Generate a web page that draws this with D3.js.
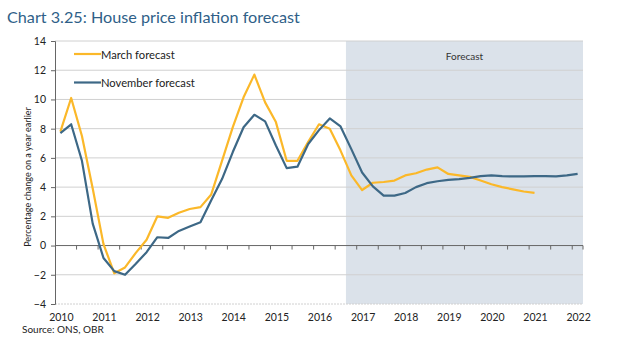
<!DOCTYPE html>
<html><head><meta charset="utf-8">
<script src="https://cdn.jsdelivr.net/npm/d3@7"></script>
<style>body{margin:0;background:#fff}svg{display:block;font-family:Lato,"Open Sans",sans-serif}</style>
</head><body><svg id="c" width="630" height="351"></svg>
<script>
const years = ["2010","2011","2012","2013","2014","2015","2016","2017","2018","2019","2020","2021","2022"];
const quarters = d3.range(49).map(i => (2010 + Math.floor(i/4)) + "Q" + (i%4+1));
const march = [7.8,10.1,7.5,3.9,0.1,-1.9,-1.5,-0.5,0.4,2.0,1.9,2.25,2.5,2.63,3.5,5.8,8.1,10.15,11.7,9.8,8.45,5.8,5.8,7.1,8.3,8.0,6.5,4.8,3.8,4.3,4.35,4.45,4.8,4.95,5.2,5.35,4.9,4.8,4.7,4.45,4.2,4.0,3.85,3.7,3.6];
const november = [7.7,8.3,5.8,1.5,-0.85,-1.75,-2.0,-1.25,-0.45,0.57,0.52,1.0,1.3,1.6,3.1,4.55,6.4,8.1,8.95,8.5,6.85,5.3,5.4,6.95,7.9,8.7,8.15,6.6,5.0,4.05,3.42,3.42,3.6,4.0,4.27,4.4,4.5,4.55,4.63,4.75,4.8,4.75,4.73,4.73,4.75,4.75,4.73,4.8,4.9];
const yTicks = [-4,-2,0,2,4,6,8,10,12,14];
const forecastStart = "2016Q4";
const seriesNames = ["March forecast","November forecast"];
const colors = ["#fbb829","#3d6886"];

const svg = d3.select("#c");
const L = 55, R = 583, T = 41, B = 304;
const x = d3.scaleBand().domain(quarters).range([L, R]);
const y = d3.scaleLinear().domain([-4, 14]).range([B, T]);
const cx = q => x(q) + x.bandwidth()/2;

// title
svg.append("text").attr("x", 7).attr("y", 23).attr("fill", "#2f5f88")
  .attr("font-size", 16.2).text("Chart 3.25: House price inflation forecast");

// forecast shading
svg.append("rect").attr("x", x(forecastStart)).attr("y", T)
  .attr("width", R - x(forecastStart)).attr("height", B - T).attr("fill", "#dbe2ea");
svg.append("text").attr("x", (x(forecastStart) + R)/2).attr("y", 60).attr("text-anchor", "middle")
  .attr("font-size", 10).attr("fill", "#333").text("Forecast");

// gridlines
svg.append("g").selectAll("line").data(yTicks.filter(v => v !== 0)).join("line")
  .attr("x1", L).attr("x2", R).attr("y1", d => y(d)).attr("y2", d => y(d))
  .attr("stroke", "#d0d0d0").attr("stroke-width", 1)
  .attr("stroke-dasharray", d => d === -4 ? "2,1" : null);

// left axis
const ya = svg.append("g").attr("transform", `translate(${L},0)`)
  .call(d3.axisLeft(y).tickValues(yTicks).tickSize(4).tickPadding(5));
ya.select(".domain").attr("stroke", "#666");
ya.selectAll(".tick line").attr("stroke", "#666");
ya.selectAll("text").attr("font-size", 10.5).attr("fill", "#222").attr("font-family", "Lato, sans-serif");

// zero axis with ticks every 2 quarters
svg.append("line").attr("x1", L).attr("x2", R).attr("y1", y(0)).attr("y2", y(0)).attr("stroke", "#666");
svg.append("g").selectAll("line").data(quarters.filter((q,i) => i % 2 === 0 && i > 0).concat(["end"])).join("line")
  .attr("x1", d => d === "end" ? R : x(d)).attr("x2", d => d === "end" ? R : x(d))
  .attr("y1", y(0)).attr("y2", y(0) + 4).attr("stroke", "#666");

// x labels
svg.append("g").selectAll("text").data(years).join("text")
  .attr("x", d => cx(d + "Q1") + 1).attr("y", 321).attr("text-anchor", "middle")
  .attr("font-size", 10.5).attr("fill", "#222").text(d => d);

// lines
const line = d3.line().x((d,i) => cx(quarters[i])).y(d => y(d));
[march, november].forEach((s, k) => {
  svg.append("path").datum(s).attr("d", line).attr("fill", "none")
    .attr("stroke", colors[k]).attr("stroke-width", 2.2).attr("stroke-linejoin", "round");
});

// legend
seriesNames.forEach((n, k) => {
  const ly = 54 + k * 28.5;
  svg.append("line").attr("x1", 74).attr("x2", 101).attr("y1", ly).attr("y2", ly)
    .attr("stroke", colors[k]).attr("stroke-width", 2.2);
  svg.append("text").attr("x", 101).attr("y", ly + 4.5).attr("font-size", 11.2).attr("fill", "#222").text(n);
});

// y label
svg.append("text").attr("transform", `translate(31,177) rotate(-90)`)
  .attr("text-anchor", "middle").attr("font-size", 9).attr("fill", "#222")
  .text("Percentage change on a year earlier");

// source
svg.append("text").attr("x", 22).attr("y", 333).attr("font-size", 10).attr("fill", "#222").text("Source: ONS, OBR");
</script></body></html>
